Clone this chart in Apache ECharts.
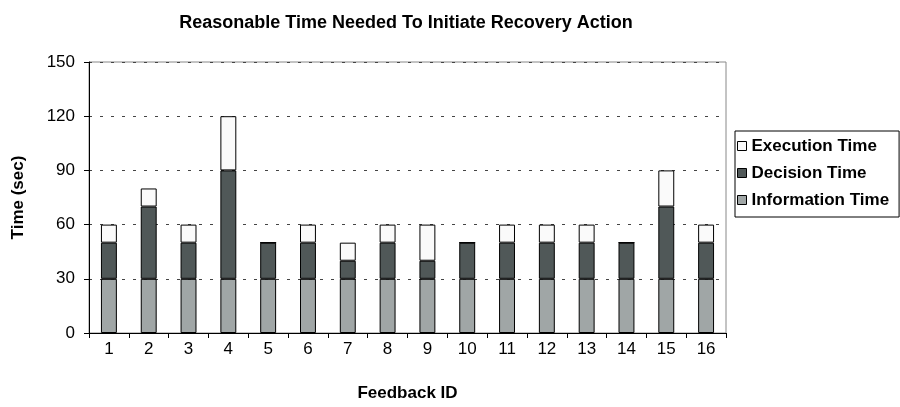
<!DOCTYPE html>
<html>
<head>
<meta charset="utf-8">
<script src="https://cdn.jsdelivr.net/npm/echarts@6/dist/echarts.min.js"></script>
<style>
  html, body { margin: 0; padding: 0; background: #fff; }
  #main { width: 900px; height: 407px; }
</style>
</head>
<body>
<div id="main"></div>
<script>
var feedbackIds = ["1", "2", "3", "4", "5", "6", "7", "8", "9", "10", "11", "12", "13", "14", "15", "16"];
var informationTime = [30, 30, 30, 30, 30, 30, 30, 30, 30, 30, 30, 30, 30, 30, 30, 30];
var decisionTime = [20, 40, 20, 60, 20, 20, 10, 20, 10, 20, 20, 20, 20, 20, 40, 20];
var executionTime = [10, 10, 10, 30, 0, 10, 10, 10, 20, 0, 10, 10, 10, 0, 20, 10];

var myChart = echarts.init(document.getElementById("main"));
var font = "Liberation Sans, Arial";

function barSeries(name, data, color) {
  return {
    name: name,
    type: "bar",
    stack: "total",
    barWidth: "40%",
    data: data,
    itemStyle: { color: color, borderColor: "#000", borderWidth: 1 }
  };
}

var option = {
  animation: false,
  title: {
    text: "Reasonable Time Needed To Initiate Recovery Action",
    left: 401,
    textAlign: "center",
    top: 9,
    textStyle: { color: "#000", fontSize: 18, fontWeight: "bold", fontFamily: font }
  },
  legend: {
    orient: "vertical",
    left: 735,
    top: 131,
    icon: "rect",
    itemWidth: 9,
    itemHeight: 9,
    itemGap: 9,
    padding: [6, 10, 8, 2],
    borderColor: "#000",
    borderWidth: 1,
    textStyle: { color: "#000", fontSize: 17, lineHeight: 18, fontWeight: "bold", fontFamily: font },
    data: [
      { name: "Execution Time", itemStyle: { borderColor: "#000", borderWidth: 1 } },
      { name: "Decision Time", itemStyle: { borderColor: "#000", borderWidth: 1 } },
      { name: "Information Time", itemStyle: { borderColor: "#000", borderWidth: 1 } }
    ]
  },
  grid: {
    left: 89,
    right: 174,
    top: 62,
    bottom: 73,
    show: true,
    borderColor: "#888",
    borderWidth: 1
  },
  xAxis: {
    type: "category",
    data: feedbackIds,
    name: "Feedback ID",
    nameLocation: "middle",
    nameGap: 52,
    nameTextStyle: { color: "#000", fontSize: 17, fontWeight: "bold", fontFamily: font },
    axisLine: { lineStyle: { color: "#000" } },
    axisTick: { show: true, alignWithLabel: false, length: 5, lineStyle: { color: "#000" } },
    axisLabel: { color: "#000", fontSize: 17, margin: 8, fontFamily: font }
  },
  yAxis: {
    type: "value",
    min: 0,
    max: 150,
    interval: 30,
    name: "Time (sec)",
    nameLocation: "middle",
    nameGap: 62,
    nameRotate: 90,
    nameTextStyle: { color: "#000", fontSize: 17, fontWeight: "bold", fontFamily: font },
    axisLine: { show: true, lineStyle: { color: "#000" } },
    axisTick: { show: true, length: 5, lineStyle: { color: "#000" } },
    axisLabel: { color: "#000", fontSize: 17, margin: 14, fontFamily: font },
    splitLine: { show: true, lineStyle: { color: "#444", type: [3, 8] } }
  },
  series: [
    barSeries("Information Time", informationTime, "#a0a6a6"),
    barSeries("Decision Time", decisionTime, "#505858"),
    barSeries("Execution Time", executionTime, "#fafafa")
  ]
};

myChart.setOption(option);
</script>
</body>
</html>
